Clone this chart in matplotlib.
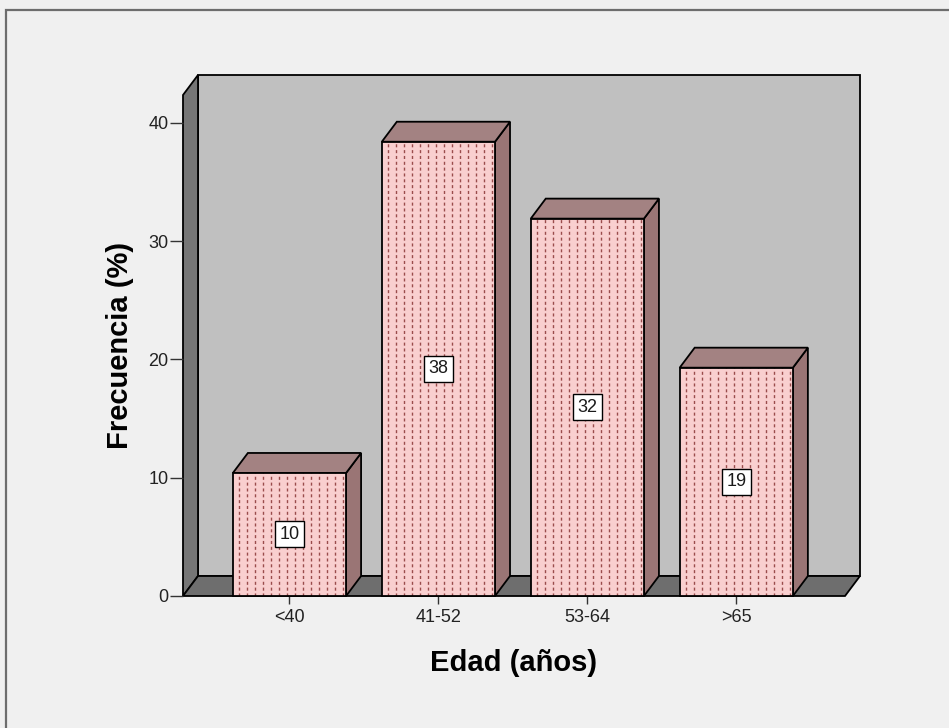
import numpy as np
import matplotlib
matplotlib.use("Agg")
import matplotlib.pyplot as plt
from matplotlib.patches import Rectangle, Polygon

plt.rcParams['font.family'] = ['Liberation Sans', 'DejaVu Sans']

categorias = ['<40', '41-52', '53-64', '>65']
frecuencia = [10.4, 38.4, 31.9, 19.3]
yticks = [0, 10, 20, 30, 40]

W, H = 949, 728
fig = plt.figure(figsize=(W / 100, H / 100), dpi=100, facecolor='#f0f0f0')

# axes box in pixels (front plane of the 3D frame)
ax_l, ax_r, ax_b, ax_t = 183, 845, 596, 95
ax = fig.add_axes([ax_l / W, (H - ax_b) / H, (ax_r - ax_l) / W, (ax_b - ax_t) / H])
x0, x1 = -0.715, 3.73
y0, y1 = 0, 42.35
ax.set_xlim(x0, x1)
ax.set_ylim(y0, y1)
ax.patch.set_visible(False)
for s in ax.spines.values():
    s.set_visible(False)

# depth of the pseudo-3D effect, pixels -> data units
depth_px = (15, 20)
dx = depth_px[0] * (x1 - x0) / (ax_r - ax_l)
dy = depth_px[1] * (y1 - y0) / (ax_b - ax_t)

edge = dict(edgecolor='black', linewidth=1.3, clip_on=False)

# back wall, left wall and floor
ax.add_patch(Rectangle((x0 + dx, y0 + dy), x1 - x0, y1 - y0, facecolor='#c0c0c0', zorder=0, **edge))
ax.add_patch(Polygon([(x0, y0), (x0 + dx, y0 + dy), (x0 + dx, y1 + dy), (x0, y1)],
                     facecolor='#767676', zorder=1, **edge))
ax.add_patch(Polygon([(x0, y0), (x1, y0), (x1 + dx, y0 + dy), (x0 + dx, y0 + dy)],
                     facecolor='#6e6e6e', zorder=1, **edge))

# bars
w = 0.76
step = 8 * (x1 - x0) / (ax_r - ax_l)
for i, v in enumerate(frecuencia):
    left, right = i - w / 2, i + w / 2
    ax.add_patch(Polygon([(right, 0), (right + dx, dy), (right + dx, v + dy), (right, v)],
                         facecolor='#9a7575', zorder=2, **edge))
    ax.add_patch(Polygon([(left, v), (right, v), (right + dx, v + dy), (left + dx, v + dy)],
                         facecolor='#a38282', zorder=2, **edge))
    ax.add_patch(Rectangle((left, 0), w, v, facecolor='#f9cfcf', zorder=3, clip_on=False))
    xs = np.arange(left + step * 0.8, right - step * 0.3, step)
    ax.vlines(xs, 0, v, colors='#9a4c4c', linewidth=1.0, linestyles=(0, (2.2, 2.0)),
              zorder=4, clip_on=False)
    ax.add_patch(Rectangle((left, 0), w, v, fill=False, zorder=5, **edge))
    ax.text(i, v / 2, f'{v:.0f}', ha='center', va='center', fontsize=13, color='#1a1a1a', zorder=6,
            bbox=dict(boxstyle='square,pad=0.25', facecolor='white', edgecolor='black', linewidth=1))

ax.set_yticks(yticks)
ax.set_yticklabels([str(t) for t in yticks])
ax.set_xticks(range(len(categorias)))
ax.set_xticklabels(categorias)
ax.tick_params(axis='y', length=9.5, width=1, color='#333333', labelsize=13, labelcolor='#222222', pad=1)
ax.tick_params(axis='x', length=6, width=1, color='#333333', labelsize=13, labelcolor='#222222', pad=3)

ax.set_xlabel('Edad (años)', fontsize=21, fontweight='bold', va='center')
ax.xaxis.set_label_coords(0.5, -0.134)
ax.set_ylabel('Frecuencia (%)', fontsize=21, fontweight='bold', va='center')
ax.yaxis.set_label_coords(-0.095, 0.5)

# outer frame
fig.patches.append(Rectangle((6 / W, -0.1), 1.2, (H - 10) / H + 0.1, transform=fig.transFigure,
                             fill=False, edgecolor='#6d6d6d', linewidth=1.6))

fig.savefig('out.png', dpi=100, facecolor=fig.get_facecolor())
